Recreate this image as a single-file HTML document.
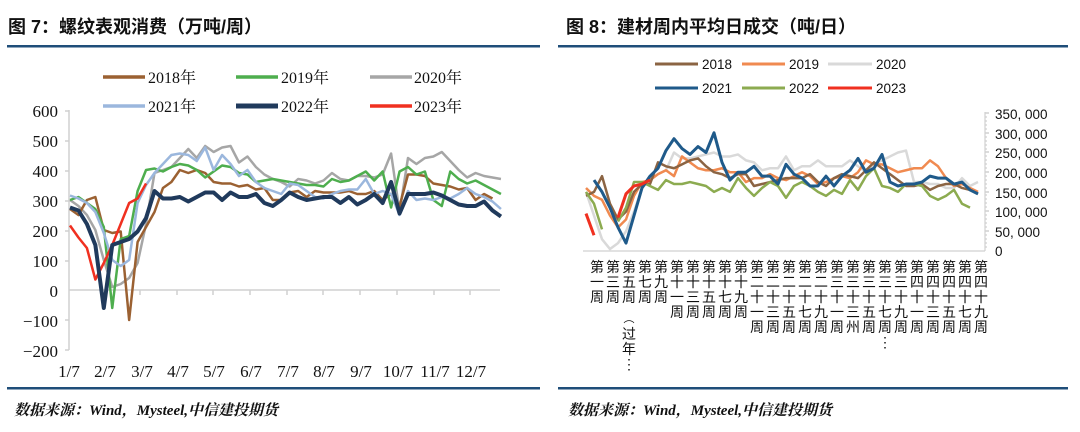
<!DOCTYPE html>
<html><head><meta charset="utf-8"><style>
body{margin:0;width:1080px;height:432px;background:#fff;overflow:hidden;font-family:"Liberation Sans","Noto Sans CJK SC",sans-serif}
svg{position:absolute;left:0;top:0}
</style></head><body>
<svg width="1080" height="432" xmlns="http://www.w3.org/2000/svg">
<g font-family="Liberation Sans, Noto Sans CJK SC, sans-serif">
<text x="8" y="33" font-size="18" font-weight="bold" fill="#111">图 7：螺纹表观消费（万吨/周）</text>
<text x="566" y="33" font-size="18" font-weight="bold" fill="#111">图 8：建材周内平均日成交（吨/日）</text>
</g>
<rect x="7" y="45" width="533" height="2.5" fill="#1f4e79"/>
<rect x="558" y="45" width="510" height="2.5" fill="#1f4e79"/>
<rect x="7" y="387" width="533" height="2.5" fill="#1f4e79"/>
<rect x="558" y="387" width="510" height="2.5" fill="#1f4e79"/>
<g font-family="Liberation Serif, Noto Serif CJK SC, serif" font-style="italic" font-weight="bold" font-size="15" fill="#111">
<text x="14" y="415">数据来源：Wind，Mysteel,中信建投期货</text>
<text x="568" y="415">数据来源：Wind，Mysteel,中信建投期货</text>
</g>

<!-- LEFT CHART -->
<g font-family="Liberation Serif, Noto Serif CJK SC, serif" font-size="16" fill="#111">
<g stroke-width="3.5" fill="none">
<line x1="103" y1="77" x2="145" y2="77" stroke="#9b6132"/>
<line x1="236" y1="77" x2="278" y2="77" stroke="#4eae4e"/>
<line x1="370" y1="77" x2="412" y2="77" stroke="#a6a6a6"/>
<line x1="103" y1="106" x2="145" y2="106" stroke="#9bb7dd"/>
<line x1="236" y1="106" x2="278" y2="106" stroke="#203a5c" stroke-width="5"/>
<line x1="370" y1="106" x2="412" y2="106" stroke="#f03020"/>
</g>
<text x="148" y="83">2018年</text><text x="281" y="83">2019年</text><text x="414" y="83">2020年</text>
<text x="148" y="112">2021年</text><text x="281" y="112">2022年</text><text x="414" y="112">2023年</text>
<g text-anchor="end" font-size="17">
<text x="58" y="117">600</text><text x="58" y="147">500</text><text x="58" y="177">400</text><text x="58" y="207">300</text>
<text x="58" y="237">200</text><text x="58" y="267">100</text><text x="58" y="297">0</text><text x="58" y="327">−100</text><text x="58" y="357">−200</text>
</g>
<g text-anchor="middle" font-size="17">
<text x="69" y="377">1/7</text><text x="105" y="377">2/7</text><text x="142" y="377">3/7</text><text x="178" y="377">4/7</text>
<text x="214" y="377">5/7</text><text x="251" y="377">6/7</text><text x="288" y="377">7/7</text><text x="324" y="377">8/7</text>
<text x="361" y="377">9/7</text><text x="398" y="377">10/7</text><text x="435" y="377">11/7</text><text x="471" y="377">12/7</text>
</g>
</g>
<g stroke="#d0d0d0" stroke-width="1.5">
<line x1="69" y1="110" x2="69" y2="350"/>
<line x1="69" y1="290" x2="500" y2="290"/>
<line x1="65" y1="111" x2="69" y2="111"/><line x1="65" y1="141" x2="69" y2="141"/><line x1="65" y1="171" x2="69" y2="171"/><line x1="65" y1="201" x2="69" y2="201"/><line x1="65" y1="231" x2="69" y2="231"/><line x1="65" y1="261" x2="69" y2="261"/><line x1="65" y1="320" x2="69" y2="320"/><line x1="65" y1="350" x2="69" y2="350"/>
<line x1="140" y1="290" x2="140" y2="295"/><line x1="177" y1="290" x2="177" y2="295"/><line x1="213" y1="290" x2="213" y2="295"/><line x1="250" y1="290" x2="250" y2="295"/><line x1="287" y1="290" x2="287" y2="295"/><line x1="323" y1="290" x2="323" y2="295"/><line x1="360" y1="290" x2="360" y2="295"/><line x1="397" y1="290" x2="397" y2="295"/><line x1="434" y1="290" x2="434" y2="295"/><line x1="470" y1="290" x2="470" y2="295"/>
</g>
<g transform="translate(70,290) scale(8.45,-0.3)" fill="none" stroke-linejoin="round">
<polyline vector-effect="non-scaling-stroke" stroke="#a6a6a6" stroke-width="2.5" points="0,300 1,280 2,250 3,200 4,100 5,10 6,20 7,40 8,90 9,220 10,390 11,400 12,410 13,440 14,470 15,440 16,480 17,460 18,475 19,480 20,425 21,445 22,410 23,385 24,370 25,360 26,345 27,370 28,365 29,355 30,365 31,390 32,370 33,365 34,380 35,380 36,375 37,385 38,455 39,260 40,440 41,420 42,440 43,445 44,460 45,430 46,400 47,375 48,390 49,380 50,375 51,370"/>
<polyline vector-effect="non-scaling-stroke" stroke="#9b6132" stroke-width="2.5" points="0,270 1,250 2,300 3,310 4,200 5,190 6,195 7,-100 8,160 9,210 10,260 11,340 12,360 13,400 14,390 15,400 16,390 17,360 18,355 19,355 20,345 21,350 22,335 23,340 24,300 25,300 26,325 27,330 28,310 29,330 30,325 31,325 32,325 33,330 34,320 35,320 36,330 37,300 38,320 39,280 40,385 41,385 42,380 43,355 44,350 45,345 46,335 47,340 48,300 49,320 50,305"/>
<polyline vector-effect="non-scaling-stroke" stroke="#4eae4e" stroke-width="2.5" points="0,300 1,310 2,290 3,270 4,210 5,-60 6,170 7,180 8,330 9,400 10,405 11,395 12,410 13,420 14,415 15,400 16,375 17,395 18,415 19,410 20,390 21,385 22,360 23,365 24,370 25,365 26,360 27,355 28,350 29,350 30,345 31,370 32,360 33,365 34,380 35,395 36,365 37,395 38,275 39,395 40,410 41,385 42,395 43,300 44,280 45,395 46,370 47,355 48,365 49,350 50,335 51,320"/>
<polyline vector-effect="non-scaling-stroke" stroke="#9bb7dd" stroke-width="2.5" points="0,315 1,305 2,290 3,260 4,190 5,100 6,80 7,100 8,290 9,350 10,390 11,420 12,450 13,455 14,450 15,430 16,475 17,400 18,450 19,420 20,380 21,400 22,360 23,340 24,330 25,320 26,355 27,350 28,330 29,310 30,305 31,320 32,330 33,335 34,335 35,370 36,320 37,330 38,320 39,250 40,330 41,300 42,305 43,300 44,310 45,305 46,320 47,340 48,320 49,310 50,295 51,270"/>
<polyline vector-effect="non-scaling-stroke" stroke="#f03020" stroke-width="2.5" points="0,215 1,175 2,140 3,35 4,90 5,150 6,220 7,290 8,305 9,355"/>
<polyline vector-effect="non-scaling-stroke" stroke="#203a5c" stroke-width="4" points="0,275 1,265 2,220 3,150 4,-60 5,150 6,160 7,170 8,195 9,240 10,330 11,305 12,305 13,310 14,295 15,310 16,325 17,325 18,300 19,325 20,310 21,310 22,320 23,290 24,280 25,300 26,325 27,310 28,300 29,305 30,310 31,310 32,290 33,310 34,285 35,300 36,320 37,290 38,360 39,255 40,320 41,320 42,320 43,325 44,315 45,300 46,285 47,280 48,280 49,295 50,265 51,245"/>
</g>

<!-- RIGHT CHART -->
<g font-size="13.5" fill="#111">
<g stroke-width="3" fill="none">
<line x1="655" y1="64" x2="698" y2="64" stroke="#8b6443"/>
<line x1="742" y1="64" x2="785" y2="64" stroke="#f08a50"/>
<line x1="828" y1="64" x2="872" y2="64" stroke="#d9d9d9"/>
<line x1="655" y1="88" x2="698" y2="88" stroke="#1f5a8a"/>
<line x1="742" y1="88" x2="785" y2="88" stroke="#8cab50"/>
<line x1="828" y1="88" x2="872" y2="88" stroke="#f03020"/>
</g>
<text x="702" y="69">2018</text><text x="789" y="69">2019</text><text x="876" y="69">2020</text>
<text x="702" y="93">2021</text><text x="789" y="93">2022</text><text x="876" y="93">2023</text>
<text x="995" y="119">350, 000</text><text x="995" y="139">300, 000</text><text x="995" y="158">250, 000</text><text x="995" y="178">200, 000</text>
<text x="995" y="198">150, 000</text><text x="995" y="217">100, 000</text><text x="995" y="237">50, 000</text><text x="995" y="256">0</text>
</g>
<g stroke="#d0d0d0" stroke-width="1.2">
<line x1="583" y1="251" x2="985" y2="251"/>
<line x1="985" y1="112" x2="985" y2="251"/>
<path d="M985 113h4M985 133h4M985 152h4M985 172h4M985 192h4M985 211h4M985 231h4" stroke-width="1.5"/>
<path d="M985 117h2M985 121h2M985 125h2M985 129h2M985 137h2M985 141h2M985 145h2M985 149h2M985 156h2M985 160h2M985 164h2M985 168h2M985 176h2M985 180h2M985 184h2M985 188h2M985 195h2M985 199h2M985 203h2M985 207h2M985 215h2M985 219h2M985 223h2M985 227h2M985 235h2M985 239h2M985 243h2M985 247h2"/>
</g>
<g font-size="14" fill="#111" text-anchor="middle" font-family="Liberation Sans, Noto Sans CJK SC, sans-serif">
<text x="597" y="272">第</text><text x="597" y="287">一</text><text x="597" y="302">周</text>
<text x="613" y="272">第</text><text x="613" y="287">三</text><text x="613" y="302">周</text>
<text x="629" y="272">第</text><text x="629" y="287">五</text><text x="629" y="302">周</text><text x="629" y="322" font-size="11">︵</text><text x="629" y="339">过</text><text x="629" y="354">年</text><text x="629" y="369">⋮</text>
<text x="645" y="272">第</text><text x="645" y="287">七</text><text x="645" y="302">周</text>
<text x="661" y="272">第</text><text x="661" y="287">九</text><text x="661" y="302">周</text>
<text x="677" y="272">第</text><text x="677" y="287">十</text><text x="677" y="302">一</text><text x="677" y="317">周</text>
<text x="693" y="272">第</text><text x="693" y="287">十</text><text x="693" y="302">三</text><text x="693" y="317">周</text>
<text x="709" y="272">第</text><text x="709" y="287">十</text><text x="709" y="302">五</text><text x="709" y="317">周</text>
<text x="725" y="272">第</text><text x="725" y="287">十</text><text x="725" y="302">七</text><text x="725" y="317">周</text>
<text x="741" y="272">第</text><text x="741" y="287">十</text><text x="741" y="302">九</text><text x="741" y="317">周</text>
<text x="757" y="272">第</text><text x="757" y="287">二</text><text x="757" y="302">十</text><text x="757" y="317">一</text><text x="757" y="332">周</text>
<text x="773" y="272">第</text><text x="773" y="287">二</text><text x="773" y="302">十</text><text x="773" y="317">三</text><text x="773" y="332">周</text>
<text x="789" y="272">第</text><text x="789" y="287">二</text><text x="789" y="302">十</text><text x="789" y="317">五</text><text x="789" y="332">周</text>
<text x="805" y="272">第</text><text x="805" y="287">二</text><text x="805" y="302">十</text><text x="805" y="317">七</text><text x="805" y="332">周</text>
<text x="821" y="272">第</text><text x="821" y="287">二</text><text x="821" y="302">十</text><text x="821" y="317">九</text><text x="821" y="332">周</text>
<text x="837" y="272">第</text><text x="837" y="287">三</text><text x="837" y="302">十</text><text x="837" y="317">一</text><text x="837" y="332">周</text>
<text x="853" y="272">第</text><text x="853" y="287">三</text><text x="853" y="302">十</text><text x="853" y="317">三</text><text x="853" y="332">州</text>
<text x="869" y="272">第</text><text x="869" y="287">三</text><text x="869" y="302">十</text><text x="869" y="317">五</text><text x="869" y="332">周</text>
<text x="885" y="272">第</text><text x="885" y="287">三</text><text x="885" y="302">十</text><text x="885" y="317">七</text><text x="885" y="332">周</text><text x="885" y="347">⋮</text>
<text x="901" y="272">第</text><text x="901" y="287">三</text><text x="901" y="302">十</text><text x="901" y="317">九</text><text x="901" y="332">周</text>
<text x="917" y="272">第</text><text x="917" y="287">四</text><text x="917" y="302">十</text><text x="917" y="317">一</text><text x="917" y="332">周</text>
<text x="933" y="272">第</text><text x="933" y="287">四</text><text x="933" y="302">十</text><text x="933" y="317">三</text><text x="933" y="332">周</text>
<text x="949" y="272">第</text><text x="949" y="287">四</text><text x="949" y="302">十</text><text x="949" y="317">五</text><text x="949" y="332">周</text>
<text x="965" y="272">第</text><text x="965" y="287">四</text><text x="965" y="302">十</text><text x="965" y="317">七</text><text x="965" y="332">周</text>
<text x="981" y="272">第</text><text x="981" y="287">四</text><text x="981" y="302">十</text><text x="981" y="317">九</text><text x="981" y="332">周</text>
</g>
<g transform="translate(586,251) scale(8,-0.394)" fill="none" stroke-linejoin="round">
<polyline vector-effect="non-scaling-stroke" stroke="#d9d9d9" stroke-width="2.5" points="0,150 1,90 2,30 3,5 4,20 5,50 6,100 7,160 8,180 9,195 10,205 11,250 12,235 13,235 14,240 15,245 16,250 17,240 18,240 19,245 20,230 21,225 22,205 23,210 24,210 25,240 26,205 27,215 28,215 29,230 30,215 31,215 32,215 33,230 34,215 35,200 36,220 37,230 38,240 39,250 40,255 41,175 42,175 43,170 44,170 45,160 46,160 47,185 48,165 49,175"/>
<polyline vector-effect="non-scaling-stroke" stroke="#f08a50" stroke-width="2.5" points="0,160 1,140 2,130 3,90 4,60 5,80 6,140 7,175 8,180 9,195 10,205 11,190 12,240 13,225 14,210 15,205 16,205 17,210 18,200 19,200 20,175 21,185 22,185 23,195 24,185 25,180 26,190 27,200 28,190 29,170 30,175 31,185 32,190 33,185 34,200 35,230 36,220 37,220 38,210 39,200 40,205 41,210 42,210 43,230 44,215 45,185 46,165 47,170 48,160 49,150"/>
<polyline vector-effect="non-scaling-stroke" stroke="#8b6443" stroke-width="2.5" points="0,140 1,150 2,190 3,120 4,80 5,100 6,150 7,170 8,170 9,225 10,215 11,210 12,220 13,230 14,235 15,215 16,200 17,195 18,185 19,195 20,195 21,165 22,170 23,175 24,180 25,185 26,185 27,185 28,195 29,175 30,165 31,185 32,195 33,190 34,185 35,205 36,225 37,210 38,195 39,180 40,165 41,165 42,170 43,155 44,165 45,170 46,170 47,160 48,155 49,145"/>
<polyline vector-effect="non-scaling-stroke" stroke="#8cab50" stroke-width="2.5" points="0,150 1,120 2,55"/>
<polyline vector-effect="non-scaling-stroke" stroke="#8cab50" stroke-width="2.5" points="4,75 5,110 6,175 7,175 8,165 9,155 10,180 11,170 12,170 13,175 14,170 15,165 16,150 17,160 18,150 19,185 20,160 21,140 22,160 23,175 24,165 25,135 26,165 27,175 28,165 29,150 30,140 31,155 32,145 33,180 34,155 35,190 36,210 37,165 38,160 39,150 40,170 41,170 42,165 43,140 44,130 45,140 46,155 47,120 48,110"/>
<polyline vector-effect="non-scaling-stroke" stroke="#1f5a8a" stroke-width="3" points="1,180 2,150 3,110 4,60 5,20 6,90 7,160 8,190 9,210 10,255 11,285 12,260 13,245 14,265 15,250 16,300 17,225 18,180 19,200 20,200 21,215 22,190 23,190 24,170 25,220 26,195 27,185 28,165 29,165 30,190 31,165 32,190 33,205 34,235 35,200 36,210 37,245 38,175 39,165 40,170 41,170 42,175 43,190 44,185 45,185 46,170 47,175 48,155 49,145"/>
<polyline vector-effect="non-scaling-stroke" stroke="#f03020" stroke-width="3" points="0,95 1,40"/>
<polyline vector-effect="non-scaling-stroke" stroke="#f03020" stroke-width="3" points="4,85 5,145 6,165 7,170 8,180"/>
</g>
</svg>
</body></html>
